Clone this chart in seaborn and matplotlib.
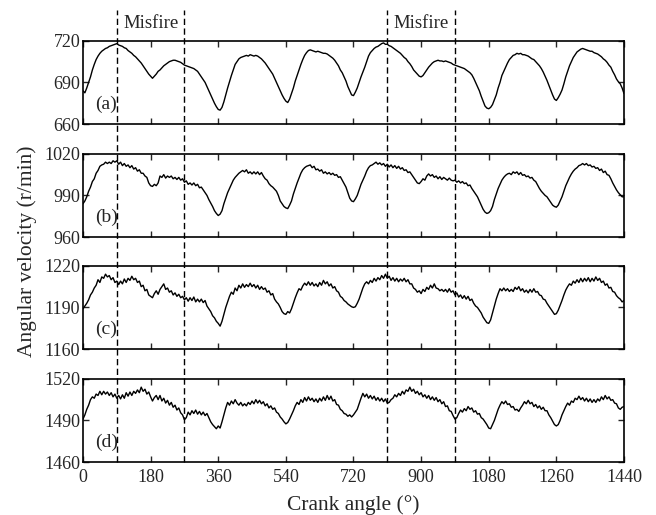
"""
Crankshaft angular velocity traces with two misfire windows
"""
import matplotlib.pyplot as plt
from matplotlib.lines import Line2D
from matplotlib.transforms import blended_transform_factory
import numpy as np
import seaborn as sns

# crank angle grid (deg), one sample every 5 deg
crank_angle = np.arange(0, 1441, 5)

# angular velocity (r/min)
speed_a = [
    684, 682.5, 686, 690, 694, 699, 703, 706.5, 709, 711, 712.5, 713.5,
    714.5, 715, 716, 716.5, 717, 717.5, 718, 717, 716.5, 716, 715, 714.5,
    713, 712, 711, 709.5, 708.5, 707, 705.5, 704, 702, 700, 698, 696,
    694.5, 693, 694.5, 696, 698, 699, 700.5, 702, 703, 704, 705, 705.5,
    706, 706, 705.5, 705, 704.5, 703.5, 702.5, 702, 701.5, 701, 700.5, 700,
    699, 698, 696, 694, 692, 690, 687, 684, 681, 678, 675, 672.5,
    670.5, 670, 672, 676, 681, 686, 690.5, 695, 699, 703, 705, 707,
    708, 708.5, 709, 709.5, 709, 710, 709.5, 709, 709.5, 709, 708, 707,
    705.5, 704, 702, 700, 698, 696, 693, 690, 687, 684, 681, 678.5,
    676.5, 675.5, 678, 682, 686, 691, 695, 699, 703, 706.5, 709.5, 711.5,
    713, 713.5, 713, 712.5, 712, 712.5, 712, 711.5, 711, 711, 710.5, 709.5,
    708.5, 707.5, 706, 704, 702, 699, 697, 694, 691, 687, 684, 681,
    680.5, 683, 686, 690, 694, 697.5, 701, 705, 709, 711.5, 713, 714.5,
    715.5, 716, 717, 718, 718.5, 717.5, 717.5, 716.5, 716, 715, 714, 713,
    712, 711, 709.5, 708, 707, 705, 703.5, 701.5, 699, 697.5, 696, 694.5,
    694, 695, 697, 699, 701, 702.5, 704, 705, 705.5, 706, 705.5, 705.5,
    705, 705.5, 705, 704.5, 704, 703, 702.5, 702, 701.5, 701, 700.5, 700,
    699, 698, 697, 695.5, 693, 690, 687, 684, 680, 676.5, 673, 671.5,
    671, 672, 674, 677.5, 681, 686, 690, 695, 698, 701, 704, 706.5,
    708, 709.5, 710, 711, 710.5, 711, 710, 710, 709.5, 709, 708, 707,
    706.5, 705, 703.5, 702, 700, 697.5, 694.5, 691.5, 688, 684.5, 681, 678,
    677, 679, 681.5, 684.5, 689, 694, 698, 702, 705, 708, 710, 712,
    713, 714, 714.5, 714, 713.5, 713, 712.5, 712.5, 711.5, 711, 710.5, 709.5,
    708.5, 707, 706, 704.5, 702.5, 701, 698, 695.5, 692.5, 690.5, 689, 686,
    682,
]

speed_b = [
    984, 986, 989, 993, 996, 1000, 1002, 1006, 1008, 1011, 1012, 1012.5,
    1014, 1013, 1014, 1013, 1015, 1014, 1015, 1012.5, 1014, 1011.5, 1013, 1011,
    1012, 1010, 1011.5, 1009, 1010, 1007.5, 1008.5, 1006, 1006, 1004, 1003, 999,
    997, 996.5, 998, 997, 999, 1004, 1003, 1005, 1002.5, 1004, 1003, 1004,
    1002, 1003, 1001.5, 1003, 1001, 1002, 999.5, 1000.5, 998, 999, 997.5, 999,
    997, 998, 995.5, 996, 994, 992, 990, 987, 984.5, 982, 979, 977,
    975.5, 976.5, 979, 984, 988, 992, 995, 998, 1001, 1003, 1004.5, 1006,
    1007, 1008, 1007, 1008.5, 1006, 1007, 1005.5, 1007, 1005.5, 1007, 1005, 1006.5,
    1004, 1002, 1001, 998.5, 997, 996, 994.5, 993, 990, 986, 984, 982,
    981, 980.5, 983, 986, 991, 995, 999, 1002.5, 1006, 1008.5, 1010, 1011,
    1011.5, 1012, 1010, 1011, 1008.5, 1009, 1007.5, 1008.5, 1006, 1007, 1005.5, 1006.5,
    1005, 1006, 1004.5, 1005, 1003, 1003.5, 1001, 998.5, 996, 992, 988, 986,
    985.5, 987.5, 990, 994, 998, 1001, 1004, 1007.5, 1010, 1011.5, 1012, 1013,
    1014, 1012.5, 1013.5, 1012, 1013, 1011, 1012.5, 1010.5, 1012, 1010, 1011.5, 1009.5,
    1011, 1009, 1010, 1008, 1008.5, 1006.5, 1007, 1005, 1003, 1001, 999, 998.5,
    1000, 1002, 1001, 1004, 1005.5, 1004, 1005, 1003, 1004, 1002, 1003.5, 1001.5,
    1003, 1002, 1001, 1002.5, 1001, 1000.5, 1001, 999.5, 1000.5, 999, 1000, 998.5,
    999, 997, 997.5, 995, 993, 991, 989, 986, 983, 980, 978, 977,
    977.5, 979, 982, 987, 991, 995, 998, 1001, 1003, 1004.5, 1005.5, 1006,
    1005, 1007, 1006, 1007, 1005, 1006.5, 1004.5, 1005, 1003.5, 1004, 1002.5, 1003,
    1001, 1000, 997.5, 995, 993, 991.5, 990, 989, 987, 985, 983, 982,
    981.5, 983, 986, 989, 993, 997, 1000, 1003, 1005.5, 1007.5, 1009, 1010,
    1011.5, 1012, 1013, 1012, 1013, 1011.5, 1012, 1010.5, 1011, 1009.5, 1010, 1008,
    1009, 1006.5, 1007.5, 1005, 1004.5, 1002, 999, 996.5, 994, 992, 990.5, 989,
    989,
]

speed_c = [
    1189, 1191, 1193, 1195.5, 1199, 1201, 1204, 1206, 1210, 1208, 1212, 1211,
    1214, 1212, 1213, 1210, 1211.5, 1208, 1209, 1206.5, 1209, 1207, 1210.5, 1208,
    1211, 1209.5, 1212.5, 1210, 1211, 1208, 1209, 1205, 1206, 1202, 1203, 1199,
    1198, 1197, 1200, 1202, 1199.5, 1203, 1205, 1207, 1203, 1204, 1201, 1202,
    1199, 1200.5, 1198, 1199.5, 1197, 1198, 1195.5, 1197, 1194.5, 1197, 1195, 1197.5,
    1194, 1196, 1194, 1196, 1193.5, 1195, 1191, 1189, 1187, 1184, 1182.5, 1180,
    1178.5, 1176.5, 1180, 1185, 1190, 1194, 1198, 1201, 1199.5, 1204, 1202, 1206,
    1204, 1207, 1204.5, 1206.5, 1205, 1207.5, 1205, 1206.5, 1204, 1206, 1203, 1205,
    1203, 1204, 1201, 1202, 1199, 1200, 1196, 1194, 1192.5, 1190, 1187, 1185.5,
    1185, 1187, 1186, 1189, 1193, 1197, 1200.5, 1203.5, 1202.5, 1205.5, 1207.5, 1206,
    1208.5, 1206, 1208, 1205.5, 1207, 1205, 1208, 1206, 1209.5, 1207, 1208.5, 1205.5,
    1207, 1204, 1205, 1202, 1201, 1198, 1197, 1195, 1194, 1192.5, 1191.5, 1190.5,
    1190, 1190.5, 1193, 1196, 1200, 1204, 1207, 1208.5, 1207, 1209.5, 1208, 1211,
    1209, 1211.5, 1210, 1213, 1211, 1214, 1211, 1212.5, 1209.5, 1211.5, 1209, 1211,
    1208.5, 1210.5, 1209, 1211, 1208.5, 1210, 1207, 1207, 1204, 1203, 1201, 1202,
    1200, 1203, 1201.5, 1204.5, 1203, 1206, 1204, 1207, 1204, 1203.5, 1202, 1203,
    1201.5, 1203, 1201, 1203.5, 1201, 1202, 1199, 1200.5, 1197.5, 1199, 1196.5, 1198.5,
    1196, 1198, 1195, 1196, 1193, 1191, 1190, 1188, 1186, 1183, 1181, 1179,
    1178.5, 1181, 1186, 1191, 1196, 1200, 1203.5, 1202, 1204, 1202, 1203.5, 1201.5,
    1203, 1201.5, 1204.5, 1203, 1205, 1202, 1203.5, 1201, 1202.5, 1200.5, 1203, 1201,
    1203.5, 1201, 1201.5, 1199, 1198.5, 1196, 1195.5, 1193, 1191, 1189, 1187, 1185,
    1185.5, 1188, 1191.5, 1195, 1199, 1202.5, 1205, 1207, 1206, 1209, 1207.5, 1210,
    1208, 1211, 1208.5, 1211, 1209, 1211.5, 1208.5, 1211, 1209, 1212, 1209.5, 1211,
    1208, 1209, 1206, 1207, 1204, 1204.5, 1201.5, 1201, 1198.5, 1197, 1196, 1194,
    1195,
]

speed_d = [
    1491, 1494, 1498, 1501, 1505, 1507, 1506, 1509, 1508, 1511, 1508.5, 1511,
    1509, 1510.5, 1508, 1510, 1507, 1509, 1506, 1508, 1505.5, 1508.5, 1506, 1510,
    1507.5, 1510.5, 1508, 1511, 1509.5, 1512, 1510, 1514, 1511, 1512.5, 1509, 1510.5,
    1507, 1504, 1506.5, 1508, 1505, 1508, 1504, 1506, 1502.5, 1504.5, 1501, 1503,
    1499.5, 1501, 1497.5, 1499, 1495.5, 1494, 1490.5, 1492, 1496, 1494, 1497, 1495,
    1497.5, 1494.5, 1496.5, 1494, 1496, 1493.5, 1495, 1492, 1489, 1487, 1485.5, 1484,
    1486, 1484.5, 1489, 1494, 1499, 1503, 1501, 1504, 1502, 1505, 1502.5, 1501,
    1503, 1500.5, 1502, 1500.5, 1503, 1501.5, 1504, 1502, 1505, 1502.5, 1504.5, 1502,
    1503.5, 1500.5, 1502, 1499, 1500.5, 1498, 1499, 1496, 1495, 1492.5, 1491, 1489,
    1487.5, 1488.5, 1491, 1494, 1497, 1500.5, 1503, 1501.5, 1505, 1503, 1506.5, 1504,
    1507, 1504.5, 1506, 1503.5, 1505.5, 1503, 1506, 1504, 1507, 1504.5, 1508, 1505,
    1507.5, 1504, 1505, 1501.5, 1501, 1498, 1497, 1495, 1494.5, 1493, 1494, 1492.5,
    1494, 1496, 1498, 1502, 1506, 1509.5, 1507, 1509, 1506, 1508, 1505.5, 1507.5,
    1504.5, 1506.5, 1504, 1506, 1503.5, 1505.5, 1502.5, 1503, 1505, 1506, 1508.5, 1507,
    1509.5, 1508, 1511, 1509, 1512, 1511, 1514, 1511, 1512.5, 1509.5, 1511, 1508.5,
    1510, 1507, 1508.5, 1506, 1508, 1505, 1507, 1504.5, 1506.5, 1503.5, 1505, 1502,
    1503.5, 1500, 1500.5, 1497, 1496.5, 1493.5, 1491, 1492, 1495, 1497.5, 1496, 1498.5,
    1497, 1500, 1498, 1499, 1496, 1497, 1494.5, 1495, 1492, 1491, 1489, 1487,
    1484.5, 1484, 1487, 1490, 1494, 1498, 1501, 1503.5, 1502, 1504, 1501.5, 1502,
    1499.5, 1500, 1497.5, 1498, 1496.5, 1499, 1501, 1503.5, 1502, 1504.5, 1502, 1503,
    1500, 1501.5, 1499, 1500.5, 1498, 1499.5, 1497, 1497, 1494, 1492, 1489.5, 1487,
    1486, 1487, 1490, 1494, 1497, 1500, 1502.5, 1501, 1504, 1503, 1506, 1505,
    1507.5, 1505, 1506.5, 1504, 1506, 1503.5, 1505.5, 1503, 1505, 1503, 1505.5, 1504,
    1507, 1505, 1508, 1505.5, 1507, 1504.5, 1505, 1502.5, 1502, 1499, 1498, 1499.5,
    1500,
]

panel_names = ["(a)", "(b)", "(c)", "(d)"]
panel_series = [speed_a, speed_b, speed_c, speed_d]
panel_ylims = [(660, 720), (960, 1020), (1160, 1220), (1460, 1520)]

# misfire window edges (deg) and label centres
misfire_edges = [90, 270, 810, 990]
misfire_centres = [180, 900]
x_ticks = list(range(0, 1441, 180))

sns.set_style("ticks")
plt.rcParams["font.family"] = ["Liberation Serif", "DejaVu Serif"]
plt.rcParams["mathtext.fontset"] = "stix"

fig = plt.figure(figsize=(6.56, 5.15), dpi=100)

left, width, height = 0.1265, 0.8247, 0.1615
bottoms = [0.7592, 0.5398, 0.3223, 0.1029]

axes = []
for name, series, ylim, bottom in zip(panel_names, panel_series, panel_ylims, bottoms):
    ax = fig.add_axes([left, bottom, width, height])
    sns.lineplot(x=crank_angle, y=series, ax=ax, color="black", linewidth=1.0)
    ax.set_xlim(0, 1440)
    ax.set_ylim(*ylim)
    ax.set_xticks(x_ticks)
    ax.set_yticks([ylim[0], (ylim[0] + ylim[1]) / 2, ylim[1]])
    ax.tick_params(direction="in", top=True, right=True, length=4,
                   width=1.0, labelsize=13, pad=2)
    for side in ax.spines.values():
        side.set_linewidth(1.2)
        side.set_color("black")
    ax.text(0.022, 0.24, name, transform=ax.transAxes, fontsize=14,
            ha="left", va="center")
    if name != "(d)":
        ax.set_xticklabels([])
    axes.append(ax)

axes[-1].tick_params(axis="x", pad=5)

# dashed misfire markers running through all panels
trans = blended_transform_factory(axes[-1].transData, fig.transFigure)
for edge in misfire_edges:
    fig.add_artist(Line2D([edge, edge], [0.1029, 0.981], transform=trans,
                          color="black", linewidth=1.0,
                          linestyle=(0, (4.5, 2.5))))
for centre in misfire_centres:
    fig.text(centre, 0.955, "Misfire", transform=trans, fontsize=13.5,
             ha="center", va="center")

fig.text(0.041, 0.512, "Angular velocity (r/min)", rotation=90,
         fontsize=15.5, ha="center", va="center")
fig.text(0.539, 0.02, "Crank angle (°)", fontsize=15.5,
         ha="center", va="center")

fig.savefig("out.png", dpi=100)
